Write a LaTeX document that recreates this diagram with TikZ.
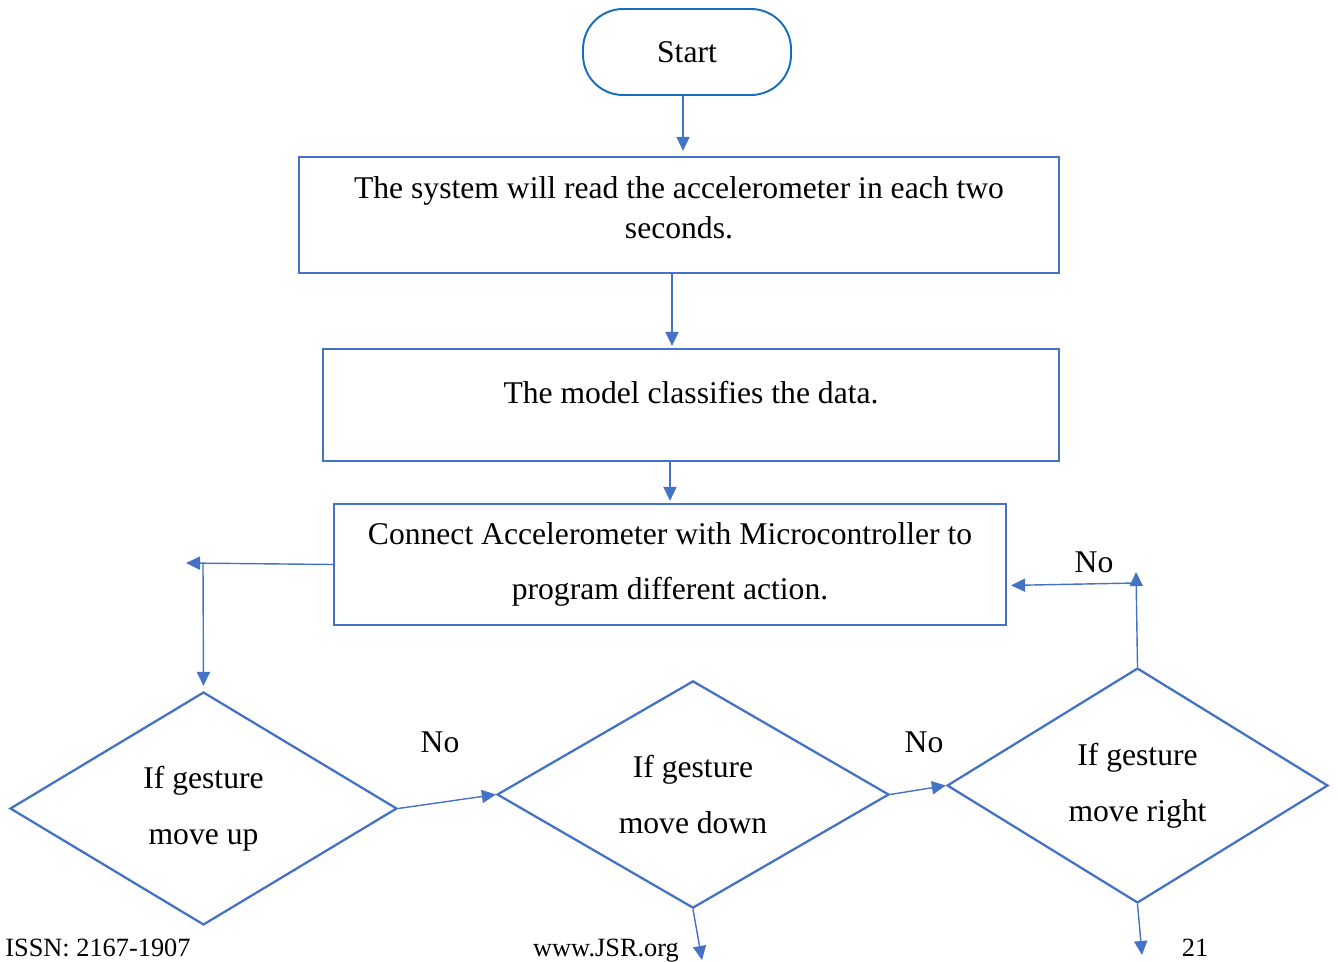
\documentclass[tikz,border=0pt]{standalone}
\usepackage{fontspec}
\setmainfont{Liberation Serif}
\usetikzlibrary{shapes.geometric, arrows.meta, positioning, calc}
\definecolor{flowblue}{RGB}{68,114,196}
\definecolor{startblue}{RGB}{20,110,190}
\tikzset{
  startbox/.style={draw=startblue, line width=1.1pt, rounded corners=0.8cm, minimum width=4.16cm, minimum height=1.72cm},
  procbox/.style={draw=flowblue, line width=1.3pt, inner sep=0pt, align=center},
  decbox/.style={diamond, draw=flowblue, line width=1.3pt, inner sep=0pt, align=center, font=\fontsize{18pt}{32pt}\selectfont},
  flowarrow/.style={draw=flowblue, line width=0.8pt, -{Triangle[length=8pt,width=7.5pt]}},
  footer/.style={inner sep=0pt, font=\fontsize{15pt}{18pt}\selectfont},
}

\begin{document}
\begin{tikzpicture}[x=0.02cm, y=-0.02cm, font=\fontsize{18pt}{22.8pt}\selectfont]
  \useasboundingbox (0,0) rectangle (1338,962);

  % Main column
  \node[startbox] (start) at (687,52) {Start};
  \node[procbox, minimum width=15.2cm, minimum height=2.32cm] (read) at (679,215) {};
  \node[align=center] (readtxt) at (679,208) {The system will read the accelerometer in each two\\seconds.};
  \node[procbox, minimum width=14.72cm, minimum height=2.24cm] (classify) at (691,405) {};
  \node (classifytxt) at (691,393) {The model classifies the data.};
  \node[procbox, minimum width=13.44cm, minimum height=2.42cm, font=\fontsize{18pt}{31pt}\selectfont] (connect) at (670,564.5) {Connect Accelerometer with Microcontroller to\\program different action.};

  % Gesture checks
  \node[decbox, minimum width=7.74cm, minimum height=4.66cm] (up) at (203.5,808.5) {If gesture\\move up};
  \node[decbox, minimum width=7.84cm, minimum height=4.38cm] (down) at (693,794.5) {If gesture\\move down};
  \node[decbox, minimum width=7.62cm, minimum height=4.70cm] (right) at (1137.5,785.5) {If gesture\\move right};

  \coordinate (upleft) at (186,563);
  \coordinate (upbend) at (203,564);
  \coordinate (rightup) at (1136,572);
  \coordinate (rightbend) at (1136,583);
  \coordinate (downend) at (702,960);
  \coordinate (rightend) at (1142,955);

  % Connectors
  \draw[flowarrow, shorten >=0.1cm] ([xshift=-0.08cm]start.south) -- ([xshift=-0.08cm]start.south |- read.north);
  \draw[flowarrow, shorten >=0.04cm] ([xshift=-0.14cm]read.south) -- ([xshift=-0.14cm]read.south |- classify.north);
  \draw[flowarrow, shorten >=0.04cm] ([xshift=-0.42cm]classify.south) -- ([xshift=-0.42cm]classify.south |- connect.north);
  \draw[flowarrow] (connect.west) -- (upleft);
  \draw[flowarrow, shorten >=0.1cm] (upbend) -- (up.north);
  \draw[flowarrow] (up.east) -- (down.west);
  \draw[flowarrow] (down.east) -- (right.west);
  \draw[flowarrow] (right.north) -- (rightup);
  \draw[flowarrow, shorten >=0.08cm] (rightbend) -- ([yshift=-0.42cm]connect.east);
  \draw[flowarrow] (down.south) -- (downend);
  \draw[flowarrow] (right.south) -- (rightend);

  \node (noup) at (440,742) {No};
  \node (nodown) at (924,742) {No};
  \node (noright) at (1094,562) {No};

  % Page footer
  \node[footer, anchor=base west] (issn) at (5,956) {ISSN: 2167-1907};
  \node[footer, anchor=base] (site) at (606,956) {www.JSR.org};
  \node[footer, anchor=base] (page) at (1195,956) {21};
\end{tikzpicture}
\end{document}
